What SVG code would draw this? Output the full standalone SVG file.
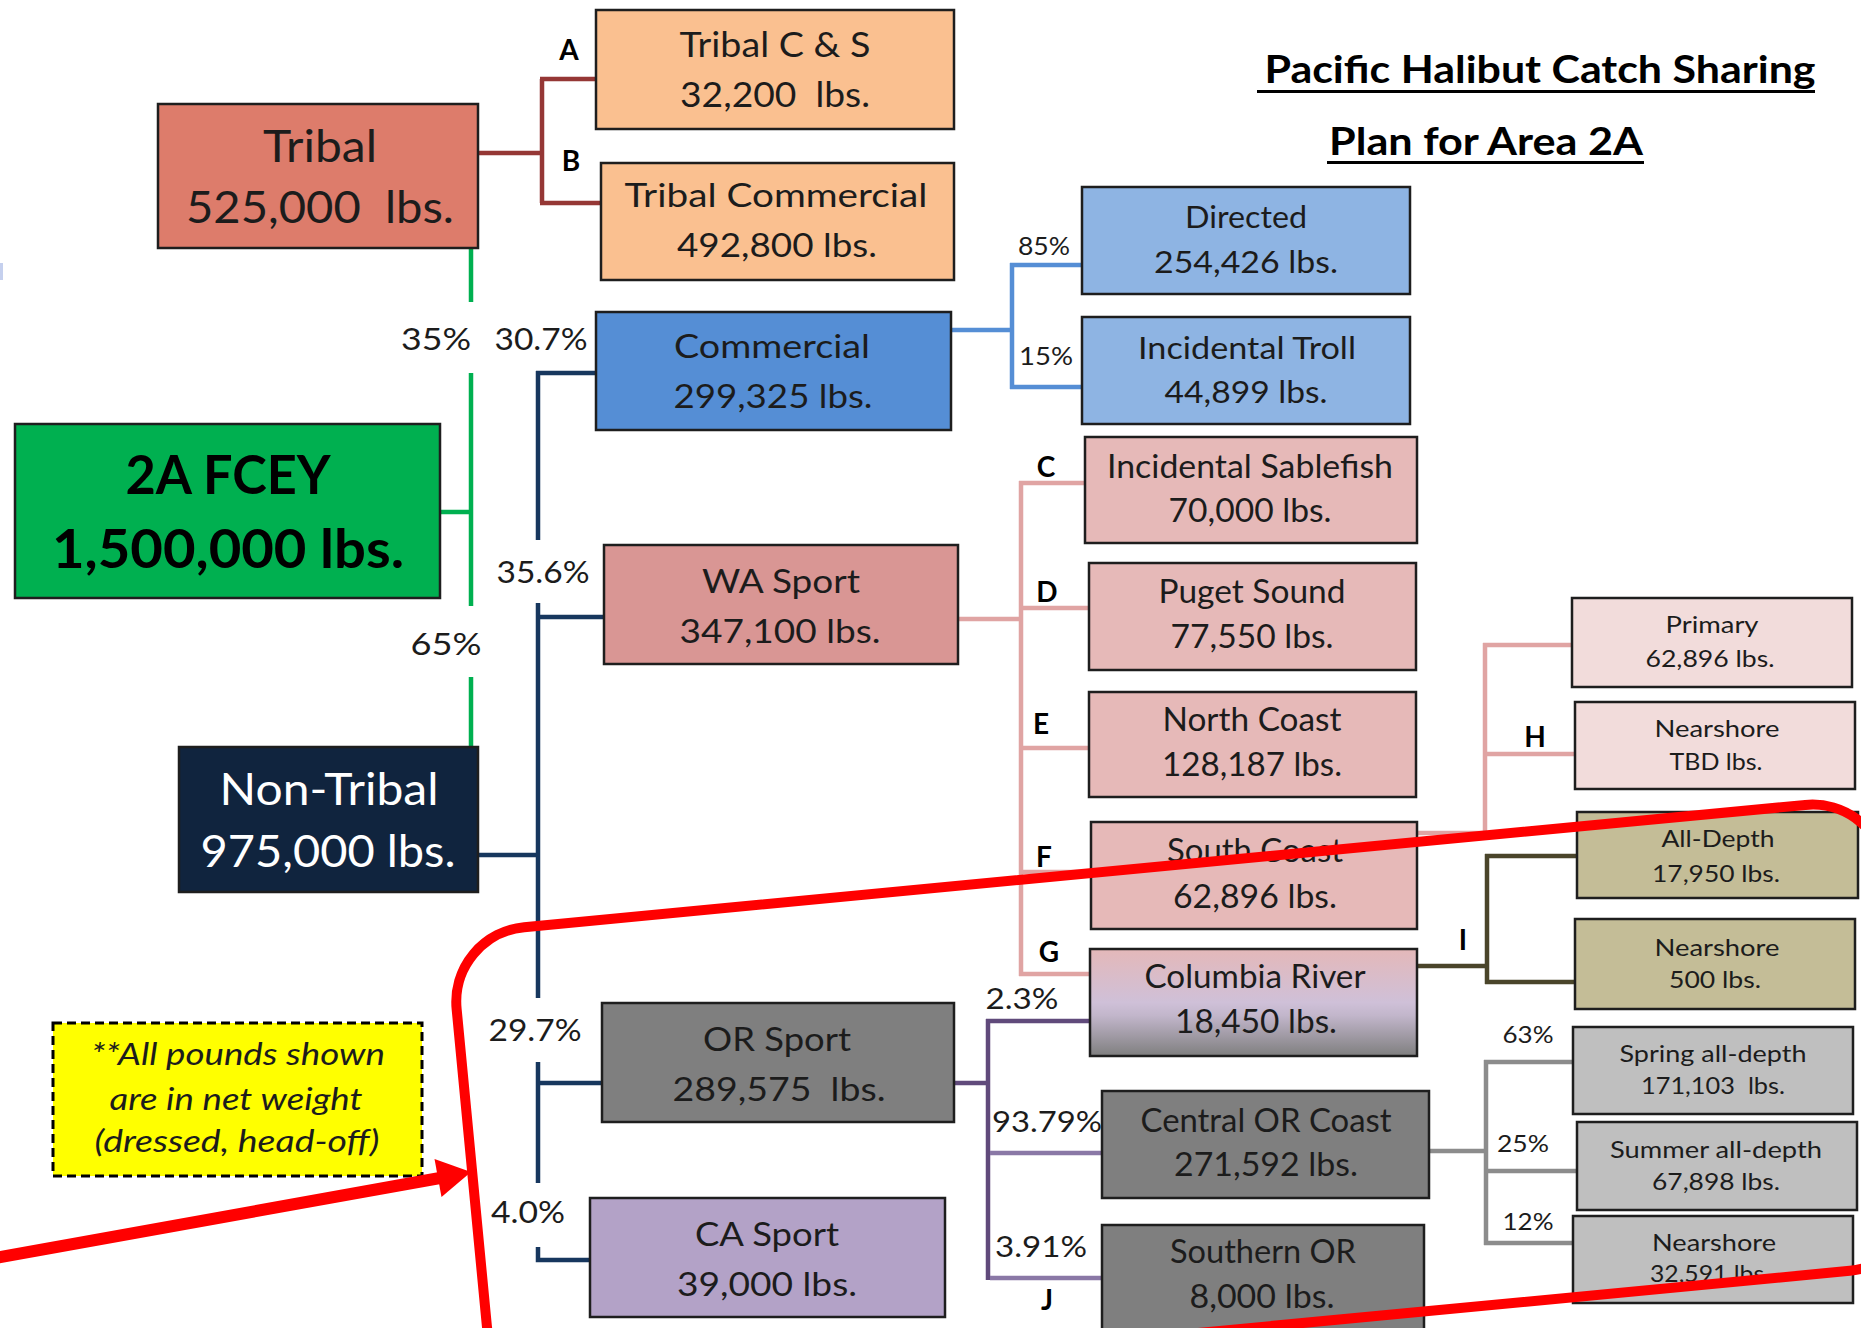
<svg xmlns="http://www.w3.org/2000/svg" width="1861" height="1328" viewBox="0 0 1861 1328">
<defs>
<style>
.box{stroke:#1e1e1e;stroke-width:2.5}
.t{font-family:Lato,"Liberation Sans",sans-serif;text-anchor:middle;fill:#1c1c1c}
.b{font-weight:bold;fill:#000}
.c{fill:none;stroke-width:4.5;stroke-linecap:butt;stroke-linejoin:miter}
.p{font-family:Lato,"Liberation Sans",sans-serif;text-anchor:middle;fill:#1c1c1c}
.l{font-family:Lato,"Liberation Sans",sans-serif;text-anchor:middle;font-weight:bold;font-size:28px;fill:#000}
</style>
<linearGradient id="crg" x1="0" y1="0" x2="0" y2="1">
<stop offset="0" stop-color="#e4b8b9"/>
<stop offset="0.5" stop-color="#cfc0d8"/>
<stop offset="0.62" stop-color="#c2b6cb"/>
<stop offset="1" stop-color="#7f7f7f"/>
</linearGradient>
</defs>
<rect width="1861" height="1328" fill="#fff"/>
<rect x="0" y="263" width="3" height="17" fill="#c5d0ee"/>

<g id="title">
<text class="t b" x="1540" y="83" font-size="38" textLength="551" lengthAdjust="spacingAndGlyphs">Pacific Halibut Catch Sharing</text>
<rect x="1257" y="90" width="558" height="3" fill="#000"/>
<text class="t b" x="1486" y="155" font-size="38" textLength="314" lengthAdjust="spacingAndGlyphs">Plan for Area 2A</text>
<rect x="1327" y="161" width="317" height="3" fill="#000"/>
</g>

<g id="connectors">
<path class="c" stroke="#953735" d="M478,153H542M542,79V203M540,79H596M540,203H601"/>
<path class="c" stroke="#00b050" d="M471,248V302M471,373V606M471,677V747M440,512H473"/>
<path class="c" stroke="#17375e" d="M478,855H540M538,371V540M538,603V998M538,1062V1183M538,1247V1260H590M536,373H596M538,617H604M538,1083H602"/>
<path class="c" stroke="#558ed5" d="M951,330H1014M1012,263V389M1010,265H1082M1010,387H1082"/>
<path class="c" stroke="#e0a4a3" d="M958,619H1023M1021,481V976M1019,483H1085M1021,608H1089M1021,748H1089M1021,872H1091M1019,974H1090"/>
<path class="c" stroke="#e0a4a3" d="M1417,833H1487M1485,643V835M1483,645H1572M1485,754H1575"/>
<path class="c" stroke="#4a452a" d="M1417,966H1489M1487,854V984M1485,856H1577M1485,982H1575"/>
<path class="c" stroke="#604a7b" d="M954,1083H990M988,1019V1280M986,1021H1090"/>
<path class="c" stroke="#8a78a6" d="M990,1153H1102M990,1278H1102"/>
<path class="c" stroke="#8c8c8c" d="M1429,1151H1488M1486,1060V1245M1484,1062H1573M1486,1171H1577M1484,1243H1573"/>
<text class="p" x="436" y="350" font-size="30" textLength="70" lengthAdjust="spacingAndGlyphs">35%</text>
<text class="p" x="541" y="350" font-size="30" textLength="93" lengthAdjust="spacingAndGlyphs">30.7%</text>
<text class="p" x="543" y="583" font-size="30" textLength="93" lengthAdjust="spacingAndGlyphs">35.6%</text>
<text class="p" x="446" y="655" font-size="30" textLength="71" lengthAdjust="spacingAndGlyphs">65%</text>
<text class="p" x="535" y="1041" font-size="30" textLength="93" lengthAdjust="spacingAndGlyphs">29.7%</text>
<text class="p" x="528" y="1223" font-size="30" textLength="74" lengthAdjust="spacingAndGlyphs">4.0%</text>
<text class="p" x="1044" y="255" font-size="25" textLength="52" lengthAdjust="spacingAndGlyphs">85%</text>
<text class="p" x="1046" y="365" font-size="25" textLength="54" lengthAdjust="spacingAndGlyphs">15%</text>
<text class="p" x="1022" y="1009" font-size="29" textLength="73" lengthAdjust="spacingAndGlyphs">2.3%</text>
<text class="p" x="1047" y="1132" font-size="29" textLength="110" lengthAdjust="spacingAndGlyphs">93.79%</text>
<text class="p" x="1041" y="1257" font-size="29" textLength="92" lengthAdjust="spacingAndGlyphs">3.91%</text>
<text class="p" x="1528" y="1043" font-size="23" textLength="51" lengthAdjust="spacingAndGlyphs">63%</text>
<text class="p" x="1523" y="1152" font-size="23" textLength="52" lengthAdjust="spacingAndGlyphs">25%</text>
<text class="p" x="1528" y="1230" font-size="23" textLength="51" lengthAdjust="spacingAndGlyphs">12%</text>
<text class="l" x="569" y="60">A</text>
<text class="l" x="571" y="171">B</text>
<text class="l" x="1046" y="477">C</text>
<text class="l" x="1047" y="602">D</text>
<text class="l" x="1041" y="734">E</text>
<text class="l" x="1044" y="867">F</text>
<text class="l" x="1049" y="962">G</text>
<text class="l" x="1535" y="747">H</text>
<text class="l" x="1463" y="950">I</text>
<text class="l" x="1047" y="1310">J</text>
</g>

<g id="tribal-cs">
<rect class="box" x="596" y="10" width="358" height="119" fill="#fac090"/>
<text class="t" x="775" y="57" font-size="34" textLength="191" lengthAdjust="spacingAndGlyphs">Tribal C &amp; S</text>
<text class="t" x="775" y="107" font-size="34" textLength="190" lengthAdjust="spacingAndGlyphs" xml:space="preserve">32,200  lbs.</text>
</g>
<g id="tribal-commercial">
<rect class="box" x="601" y="163" width="353" height="117" fill="#fac090"/>
<text class="t" x="776" y="207" font-size="33" textLength="303" lengthAdjust="spacingAndGlyphs">Tribal Commercial</text>
<text class="t" x="777" y="257" font-size="33" textLength="200" lengthAdjust="spacingAndGlyphs">492,800 lbs.</text>
</g>
<g id="tribal">
<rect class="box" x="158" y="104" width="320" height="144" fill="#dd7c6b" stroke-width="3"/>
<text class="t" x="320" y="162" font-size="44" textLength="114" lengthAdjust="spacingAndGlyphs">Tribal</text>
<text class="t" x="320" y="223" font-size="44" textLength="268" lengthAdjust="spacingAndGlyphs" xml:space="preserve">525,000  lbs.</text>
</g>
<g id="commercial">
<rect class="box" x="596" y="312" width="355" height="118" fill="#558ed5"/>
<text class="t" x="772" y="358" font-size="32" textLength="196" lengthAdjust="spacingAndGlyphs">Commercial</text>
<text class="t" x="773" y="408" font-size="32" textLength="199" lengthAdjust="spacingAndGlyphs">299,325 lbs.</text>
</g>
<g id="directed">
<rect class="box" x="1082" y="187" width="328" height="107" fill="#8eb4e3"/>
<text class="t" x="1246" y="228" font-size="30" textLength="122" lengthAdjust="spacingAndGlyphs">Directed</text>
<text class="t" x="1246" y="273" font-size="30" textLength="184" lengthAdjust="spacingAndGlyphs">254,426 lbs.</text>
</g>
<g id="incidental-troll">
<rect class="box" x="1082" y="317" width="328" height="107" fill="#8eb4e3"/>
<text class="t" x="1247" y="359" font-size="30" textLength="218" lengthAdjust="spacingAndGlyphs">Incidental Troll</text>
<text class="t" x="1246" y="403" font-size="30" textLength="163" lengthAdjust="spacingAndGlyphs">44,899 lbs.</text>
</g>
<g id="fcey">
<rect class="box" x="15" y="424" width="425" height="174" fill="#00b050" stroke-width="3"/>
<text class="t b" x="228" y="494" font-size="54" textLength="205" lengthAdjust="spacingAndGlyphs">2A FCEY</text>
<text class="t b" x="228" y="568" font-size="54" textLength="352" lengthAdjust="spacingAndGlyphs">1,500,000 lbs.</text>
</g>
<g id="non-tribal">
<rect class="box" x="179" y="747" width="299" height="145" fill="#10243e" stroke-width="3"/>
<text class="t" x="329" y="805" font-size="44" style="fill:#fff" textLength="219" lengthAdjust="spacingAndGlyphs">Non-Tribal</text>
<text class="t" x="328" y="867" font-size="44" style="fill:#fff" textLength="255" lengthAdjust="spacingAndGlyphs">975,000 lbs.</text>
</g>
<g id="wa-sport">
<rect class="box" x="604" y="545" width="354" height="119" fill="#d99694"/>
<text class="t" x="781" y="593" font-size="32" textLength="158" lengthAdjust="spacingAndGlyphs">WA Sport</text>
<text class="t" x="780" y="643" font-size="32" textLength="201" lengthAdjust="spacingAndGlyphs">347,100 lbs.</text>
</g>
<g id="incidental-sablefish">
<rect class="box" x="1085" y="437" width="332" height="106" fill="#e6b9b8"/>
<text class="t" x="1250" y="478" font-size="32" textLength="286" lengthAdjust="spacingAndGlyphs">Incidental Sablefish</text>
<text class="t" x="1250" y="522" font-size="32" textLength="163" lengthAdjust="spacingAndGlyphs">70,000 lbs.</text>
</g>
<g id="puget-sound">
<rect class="box" x="1089" y="563" width="327" height="107" fill="#e6b9b8"/>
<text class="t" x="1252" y="603" font-size="32" textLength="187" lengthAdjust="spacingAndGlyphs">Puget Sound</text>
<text class="t" x="1252" y="648" font-size="32" textLength="163" lengthAdjust="spacingAndGlyphs">77,550 lbs.</text>
</g>
<g id="north-coast">
<rect class="box" x="1089" y="692" width="327" height="105" fill="#e6b9b8"/>
<text class="t" x="1252" y="731" font-size="32" textLength="179" lengthAdjust="spacingAndGlyphs">North Coast</text>
<text class="t" x="1252" y="776" font-size="32" textLength="180" lengthAdjust="spacingAndGlyphs">128,187 lbs.</text>
</g>
<g id="south-coast">
<rect class="box" x="1091" y="822" width="326" height="107" fill="#e6b9b8"/>
<text class="t" x="1255" y="862" font-size="32" textLength="176" lengthAdjust="spacingAndGlyphs">South Coast</text>
<text class="t" x="1255" y="908" font-size="32" textLength="164" lengthAdjust="spacingAndGlyphs">62,896 lbs.</text>
</g>
<g id="columbia-river">
<rect class="box" x="1090" y="949" width="327" height="107" fill="url(#crg)"/>
<text class="t" x="1255" y="988" font-size="32" textLength="221" lengthAdjust="spacingAndGlyphs">Columbia River</text>
<text class="t" x="1256" y="1033" font-size="32" textLength="162" lengthAdjust="spacingAndGlyphs">18,450 lbs.</text>
</g>
<g id="primary">
<rect class="box" x="1572" y="598" width="280" height="89" fill="#f2dcdb"/>
<text class="t" x="1712" y="633" font-size="24" textLength="93" lengthAdjust="spacingAndGlyphs">Primary</text>
<text class="t" x="1710" y="667" font-size="24" textLength="129" lengthAdjust="spacingAndGlyphs">62,896 lbs.</text>
</g>
<g id="nearshore-tbd">
<rect class="box" x="1575" y="702" width="280" height="87" fill="#f2dcdb"/>
<text class="t" x="1717" y="737" font-size="24" textLength="125" lengthAdjust="spacingAndGlyphs">Nearshore</text>
<text class="t" x="1716" y="770" font-size="24" textLength="93" lengthAdjust="spacingAndGlyphs">TBD lbs.</text>
</g>
<g id="all-depth">
<rect class="box" x="1577" y="812" width="281" height="86" fill="#c4bd97"/>
<text class="t" x="1718" y="847" font-size="24" textLength="113" lengthAdjust="spacingAndGlyphs">All-Depth</text>
<text class="t" x="1716" y="882" font-size="24" textLength="128" lengthAdjust="spacingAndGlyphs">17,950 lbs.</text>
</g>
<g id="nearshore-500">
<rect class="box" x="1575" y="919" width="280" height="90" fill="#c4bd97"/>
<text class="t" x="1717" y="956" font-size="24" textLength="125" lengthAdjust="spacingAndGlyphs">Nearshore</text>
<text class="t" x="1715" y="988" font-size="24" textLength="92" lengthAdjust="spacingAndGlyphs">500 lbs.</text>
</g>
<g id="or-sport">
<rect class="box" x="602" y="1003" width="352" height="119" fill="#7f7f7f"/>
<text class="t" x="777" y="1051" font-size="32" textLength="148" lengthAdjust="spacingAndGlyphs">OR Sport</text>
<text class="t" x="779" y="1101" font-size="32" textLength="213" lengthAdjust="spacingAndGlyphs" xml:space="preserve">289,575  lbs.</text>
</g>
<g id="ca-sport">
<rect class="box" x="590" y="1198" width="355" height="119" fill="#b3a2c7"/>
<text class="t" x="767" y="1246" font-size="32" textLength="144" lengthAdjust="spacingAndGlyphs">CA Sport</text>
<text class="t" x="767" y="1296" font-size="32" textLength="180" lengthAdjust="spacingAndGlyphs">39,000 lbs.</text>
</g>
<g id="central-or-coast">
<rect class="box" x="1102" y="1091" width="327" height="107" fill="#7f7f7f"/>
<text class="t" x="1266" y="1132" font-size="32" textLength="251" lengthAdjust="spacingAndGlyphs">Central OR Coast</text>
<text class="t" x="1266" y="1176" font-size="32" textLength="184" lengthAdjust="spacingAndGlyphs">271,592 lbs.</text>
</g>
<g id="southern-or">
<rect class="box" x="1102" y="1225" width="322" height="125" fill="#7f7f7f"/>
<text class="t" x="1263" y="1263" font-size="32" textLength="186" lengthAdjust="spacingAndGlyphs">Southern OR</text>
<text class="t" x="1262" y="1308" font-size="32" textLength="145" lengthAdjust="spacingAndGlyphs">8,000 lbs.</text>
</g>
<g id="spring-all-depth">
<rect class="box" x="1573" y="1027" width="280" height="87" fill="#bfbfbf"/>
<text class="t" x="1713" y="1062" font-size="24" textLength="187" lengthAdjust="spacingAndGlyphs">Spring all-depth</text>
<text class="t" x="1713" y="1094" font-size="24" textLength="144" lengthAdjust="spacingAndGlyphs" xml:space="preserve">171,103  lbs.</text>
</g>
<g id="summer-all-depth">
<rect class="box" x="1577" y="1122" width="280" height="88" fill="#bfbfbf"/>
<text class="t" x="1716" y="1158" font-size="24" textLength="212" lengthAdjust="spacingAndGlyphs">Summer all-depth</text>
<text class="t" x="1716" y="1190" font-size="24" textLength="128" lengthAdjust="spacingAndGlyphs">67,898 lbs.</text>
</g>
<g id="nearshore-or">
<rect class="box" x="1573" y="1216" width="280" height="87" fill="#bfbfbf"/>
<text class="t" x="1714" y="1251" font-size="24" textLength="124" lengthAdjust="spacingAndGlyphs">Nearshore</text>
<text class="t" x="1710" y="1282" font-size="24" textLength="120" lengthAdjust="spacingAndGlyphs">32,591 lbs.</text>
</g>
<g id="note">
<rect x="53" y="1023" width="369" height="153" fill="#ffff00" stroke="#000" stroke-width="3" stroke-dasharray="9 5"/>
<text class="t" x="238" y="1065" font-size="30" font-style="italic" textLength="294" lengthAdjust="spacingAndGlyphs">**All pounds shown</text>
<text class="t" x="236" y="1110" font-size="30" font-style="italic" textLength="253" lengthAdjust="spacingAndGlyphs">are in net weight</text>
<text class="t" x="237" y="1152" font-size="30" font-style="italic" textLength="285" lengthAdjust="spacingAndGlyphs">(dressed, head-off)</text>
</g>

<g id="annotation">
<rect x="449.5" y="934.3" width="1437" height="468" rx="75" fill="none" stroke="#ff0000" stroke-width="10" transform="rotate(-5.45 449.5 934.3)"/>
<path d="M-5,1258L440,1178" stroke="#ff0000" stroke-width="12" fill="none"/>
<polygon points="471,1172 434.5,1159 441.5,1197" fill="#ff0000"/>
</g>
</svg>
